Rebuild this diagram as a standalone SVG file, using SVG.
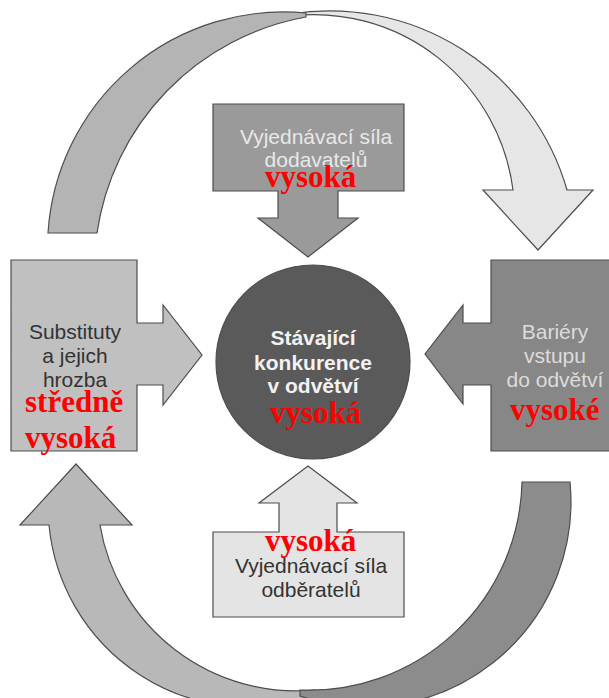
<svg xmlns="http://www.w3.org/2000/svg" width="609" height="698" viewBox="0 0 609 698">
<style>
.sh{stroke:#4d4d4d;stroke-width:1.2;stroke-linejoin:miter}
.t{font-family:"Liberation Sans",Arial,sans-serif;font-size:21px;text-anchor:middle}
.tb{font-family:"Liberation Sans",Arial,sans-serif;font-size:21px;font-weight:bold;text-anchor:middle;fill:#f2f2f2}
.r{font-family:"Liberation Serif","Times New Roman",serif;font-size:31px;font-weight:bold;fill:#ff0000}
</style>
<rect width="609" height="698" fill="#ffffff"/>
<g id="connectors">
<path class="sh" fill="#e6e6e6" d="M 290 14 A 247 247 0 0 1 567 190 L 593 190 L 538 250 L 483 190 L 513 190 A 201 201 0 0 0 290 16 Z"/>
<path class="sh" fill="#b4b4b4" d="M 48 233 A 236 236 0 0 1 306 13 L 306 17 A 257 257 0 0 0 97 233 Z"/>
<path class="sh" fill="#b8b8b8" d="M 100 525 L 132 525 L 76 464 L 20 525 L 49 525 A 201 201 0 0 0 315 696 L 315 690 A 199 199 0 0 1 100 525 Z"/>
<path class="sh" fill="#8c8c8c" d="M 522 482 L 570 482 A 205 205 0 0 1 300 696 L 300 690 A 213 213 0 0 0 522 482 Z"/>
</g>
<g id="node-dodavatele">
<path class="sh" fill="#9a9a9a" d="M 213 104 L 404 104 L 404 191 L 338 191 L 338 218 L 358 218 L 308 257 L 258 218 L 278 218 L 278 191 L 213 191 Z"/>
<text class="t" fill="#e8e8e8" x="316" y="144">Vyjednávací síla</text>
<text class="t" fill="#e8e8e8" x="316" y="167">dodavatelů</text>
<text class="r" x="265" y="187">vysoká</text>
</g>
<g id="node-substituty">
<path class="sh" fill="#c0c0c0" d="M 11 260 L 137 260 L 137 323 L 163 323 L 163 305 L 202 355 L 163 405 L 163 385 L 137 385 L 137 451 L 11 451 Z"/>
<text class="t" fill="#333333" x="75" y="339">Substituty</text>
<text class="t" fill="#333333" x="75" y="363">a jejich</text>
<text class="t" fill="#333333" x="75" y="387">hrozba</text>
<text class="r" x="25" y="412">středně</text>
<text class="r" x="25" y="448">vysoká</text>
</g>
<g id="node-konkurence">
<circle class="sh" fill="#5a5a5a" cx="313" cy="362" r="97"/>
<text class="tb" x="313" y="345">Stávající</text>
<text class="tb" x="313" y="370">konkurence</text>
<text class="tb" x="313" y="393">v odvětví</text>
<text class="r" x="270" y="423">vysoká</text>
</g>
<g id="node-bariery">
<path class="sh" fill="#878787" d="M 620 260 L 491 260 L 491 323 L 463 323 L 463 305 L 425 354 L 463 404 L 463 385 L 491 385 L 491 451 L 620 451 Z"/>
<text class="t" fill="#dcdcdc" x="555" y="339">Bariéry</text>
<text class="t" fill="#dcdcdc" x="555" y="363">vstupu</text>
<text class="t" fill="#dcdcdc" x="555" y="387">do odvětví</text>
<text class="r" x="510" y="420">vysoké</text>
</g>
<g id="node-odberatele">
<path class="sh" fill="#e4e4e4" d="M 213 617 L 404 617 L 404 532 L 337 532 L 337 503 L 357 503 L 308 466 L 259 503 L 279 503 L 279 532 L 213 532 Z"/>
<text class="r" x="265" y="551">vysoká</text>
<text class="t" fill="#333333" x="311" y="573">Vyjednávací síla</text>
<text class="t" fill="#333333" x="311" y="597">odběratelů</text>
</g>
</svg>
